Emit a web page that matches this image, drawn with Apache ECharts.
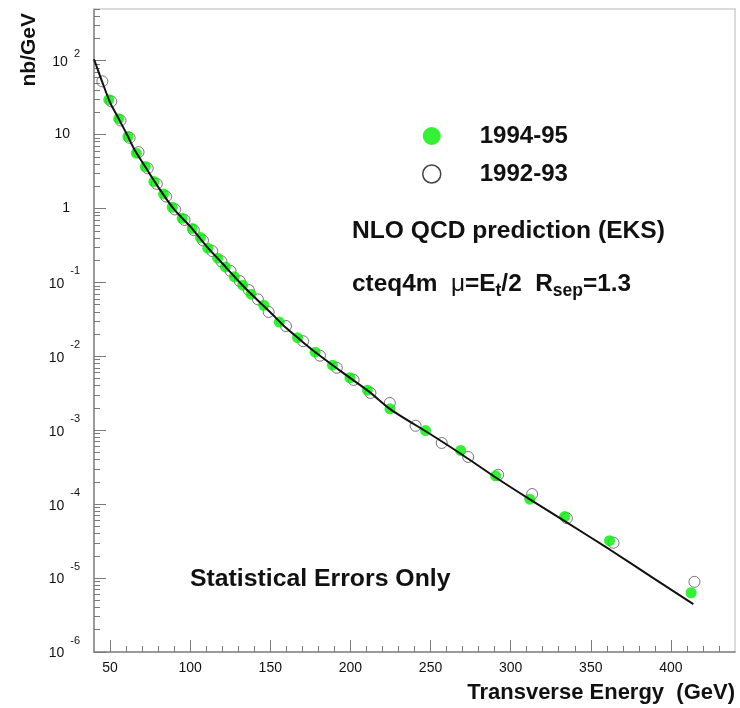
<!DOCTYPE html>
<html><head><meta charset="utf-8">
<script src="https://cdn.jsdelivr.net/npm/echarts@6/dist/echarts.min.js"></script>
<style>html,body{margin:0;padding:0;background:#fff}#c{width:740px;height:708px}</style>
</head><body><div id="c"></div>
<script>
// ---- data ----
const et9495 = [49.2,55.4,61.2,66.4,72.0,77.4,83.4,88.8,95.0,101.3,106.4,111.0,117.2,122.0,127.6,132.8,138.0,145.9,155.6,167.0,178.0,188.8,199.7,210.6,224.7,246.9,268.8,290.6,311.9,333.7,361.7,412.6];
const xs9495 = [29.7,16.4,9.42,5.61,3.69,2.31,1.57,1.04,0.736,0.538,0.406,0.291,0.213,0.162,0.119,0.0917,0.0692,0.0491,0.0291,0.0179,0.0114,0.0076,0.00513,0.00348,0.00195,0.00099,0.000533,0.000242,0.000117,6.79e-5,3.21e-5,6.33e-6];
const et9293 = [45.2,50.8,56.6,62.2,67.8,73.5,79.2,85.0,90.6,96.5,102.3,108.0,113.8,119.5,125.2,131.0,136.6,142.3,149.0,159.8,170.5,181.0,191.5,202.0,212.5,224.6,240.7,257.0,273.5,292.2,313.4,335.1,364.2,414.7];
const xs9293 = [52.5,28.1,15.5,9.05,5.79,3.5,2.15,1.45,0.97,0.70,0.51,0.37,0.265,0.193,0.143,0.104,0.079,0.059,0.0398,0.0257,0.016,0.0102,0.0070,0.0048,0.0032,0.00234,0.00115,6.73e-4,4.35e-4,2.50e-4,1.37e-4,6.46e-5,3.01e-5,8.9e-6];
const etNLO = [40,45,50,55,60,65,70,80,90,100,110,120,130,140,150,160,170,180,190,200,212,225,250,270,290,312,334,362,390,414];
const xsNLO = [104.5,52.5,27.3,17.0,10.6,6.4,4.29,1.96,0.97,0.574,0.313,0.1816,0.1054,0.0634,0.0394,0.0241,0.0158,0.01057,0.00728,0.00507,0.00328,0.00192,8.83e-4,4.63e-4,2.35e-4,1.16e-4,5.85e-5,2.42e-5,9.7e-6,4.44e-6];
const xMajor = [50,100,150,200,250,300,350,400];
const xMinor = [60,70,80,90,110,120,130,140,160,170,180,190,210,220,230,240,260,270,280,290,310,320,330,340,360,370,380,390,410,420,430];
const yMajor = [1e-6,1e-5,1e-4,1e-3,1e-2,1e-1,1,10,100];
const yMinor = [];
for (let n = -6; n <= 2; n++) { for (let k = 2; k <= 9; k++) { const v = k * Math.pow(10, n); if (v <= 500) yMinor.push(v); } }

const F = '"Liberation Sans", Arial, Helvetica, sans-serif';
const AX = '#7a7a7a';
const FRAME = '#cfcfcf';

const chart = echarts.init(document.getElementById('c'), null, {renderer: 'canvas'});
const zip = (a, b) => a.map((v, i) => [v, b[i]]);

chart.setOption({
  animation: false,
  backgroundColor: '#fff',
  grid: {left: 94, right: 5, top: 9, bottom: 56, outerBoundsMode: 'none', containLabel: false},
  legend: {
    orient: 'vertical', left: 422, top: 124, padding: 0, itemGap: 14,
    itemWidth: 18, itemHeight: 18,
    textStyle: {fontFamily: F, fontSize: 24, fontWeight: 'bold', color: '#111', lineHeight: 24, padding: [0, 0, 0, 34]},
    data: [
      {name: '1994-95', icon: 'circle', itemStyle: {color: '#00ee00', borderWidth: 0}},
      {name: '1992-93', icon: 'circle', itemStyle: {color: 'rgba(255,255,255,0)', borderColor: '#111', borderWidth: 1.5}}
    ]
  },
  xAxis: [{
    type: 'value', min: 40, max: 440, position: 'bottom',
    axisLine: {show: true, lineStyle: {color: AX, width: 1.5}},
    axisTick: {show: true, inside: true, length: 12, customValues: xMajor, lineStyle: {color: AX, width: 1}},
    axisLabel: {customValues: xMajor, fontFamily: F, fontSize: 14, color: '#111', margin: 9},
    splitLine: {show: false}
  }, {
    type: 'value', min: 40, max: 440, position: 'bottom',
    axisLine: {show: false},
    axisTick: {show: true, inside: true, length: 6, customValues: xMinor, lineStyle: {color: AX, width: 1}},
    axisLabel: {show: false}, splitLine: {show: false}
  }, {
    type: 'value', min: 40, max: 440, position: 'top',
    axisLine: {show: true, lineStyle: {color: FRAME, width: 1.5}},
    axisTick: {show: false}, axisLabel: {show: false}, splitLine: {show: false}
  }],
  yAxis: [{
    type: 'log', logBase: 10, min: 1e-6, max: 500, position: 'left',
    axisLine: {show: true, lineStyle: {color: AX, width: 1.5}},
    axisTick: {show: true, inside: true, length: 12, customValues: yMajor, lineStyle: {color: AX, width: 1}},
    axisLabel: {
      customValues: yMajor, margin: 14,
      formatter: function (v) {
        const e = Math.round(Math.log10(v));
        if (e === 0) return '{p|1}';
        if (e === 1) return '{p|10}';
        return '{b|10}{' + (e > 0 ? 'u' : 's') + '|' + e + '}';
      },
      rich: {
        b: {fontFamily: F, fontSize: 14, color: '#111', padding: [3, 0, 0, 0]},
        p: {fontFamily: F, fontSize: 14, color: '#111', padding: [0, 10, 0, 0]},
        s: {fontFamily: F, fontSize: 11, color: '#111', padding: [0, 0, 22, 6]},
        u: {fontFamily: F, fontSize: 11, color: '#111', padding: [0, 0, 14, 6]}
      }
    },
    splitLine: {show: false}
  }, {
    type: 'log', logBase: 10, min: 1e-6, max: 500, position: 'left', offset: 0,
    axisLine: {show: false},
    axisTick: {show: true, inside: true, length: 6, customValues: yMinor, lineStyle: {color: AX, width: 1}},
    axisLabel: {show: false}, splitLine: {show: false}
  }, {
    type: 'log', logBase: 10, min: 1e-6, max: 500, position: 'right', offset: 0,
    axisLine: {show: true, lineStyle: {color: FRAME, width: 1.5}},
    axisTick: {show: false}, axisLabel: {show: false}, splitLine: {show: false}
  }],
  series: [{
    name: '1992-93', type: 'scatter', xAxisIndex: 0, yAxisIndex: 0,
    data: zip(et9293, xs9293), symbol: 'circle', symbolSize: 11,
    itemStyle: {color: 'rgba(255,255,255,0)', borderColor: '#555', borderWidth: 1},
    emphasis: {disabled: true}
  }, {
    name: '1994-95', type: 'scatter', xAxisIndex: 0, yAxisIndex: 0,
    data: zip(et9495, xs9495), symbol: 'circle', symbolSize: 11,
    itemStyle: {color: '#00ee00'},
    emphasis: {disabled: true}
  }, {
    name: 'NLO', type: 'line', xAxisIndex: 0, yAxisIndex: 0,
    data: zip(etNLO, xsNLO), symbol: 'none', smooth: 0.25,
    lineStyle: {color: '#111', width: 2},
    emphasis: {disabled: true}
  }],
  graphic: [
    {type: 'text', x: 29, y: 13, rotation: Math.PI / 2,
     style: {text: 'nb/GeV', font: 'bold 21px ' + F, fill: '#111', align: 'right', verticalAlign: 'middle'}},
    {type: 'text', x: 735, y: 693,
     style: {text: 'Transverse Energy  (GeV)', font: 'bold 22px ' + F, fill: '#111', align: 'right', verticalAlign: 'middle'}},
    {type: 'text', x: 352, y: 231,
     style: {text: 'NLO QCD prediction (EKS)', font: 'bold 24.6px ' + F, fill: '#111', align: 'left', verticalAlign: 'middle'}},
    {type: 'text', x: 352, y: 284,
     style: {
       text: '{n|cteq4m  }{g|μ}{n|=E}{sub|t}{n|/2  R}{sub|sep}{n|=1.3}',
       align: 'left', verticalAlign: 'middle',
       rich: {
         n: {fontFamily: F, fontSize: 24.4, fontWeight: 'bold', fill: '#111', color: '#111'},
         g: {fontFamily: F, fontSize: 24.4, fontWeight: 'normal', fill: '#111', color: '#111'},
         sub: {fontFamily: F, fontSize: 17.5, fontWeight: 'bold', fill: '#111', color: '#111', padding: [14, 0, 0, 0]}
       }
     }},
    {type: 'text', x: 190, y: 579,
     style: {text: 'Statistical Errors Only', font: 'bold 24.8px ' + F, fill: '#111', align: 'left', verticalAlign: 'middle'}}
  ]
});
</script>
</body></html>
